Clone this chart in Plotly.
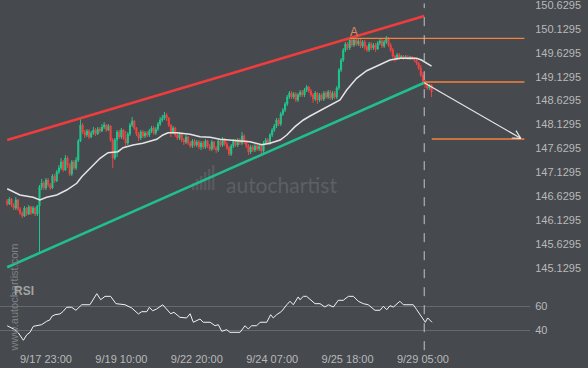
import math
import plotly.graph_objects as go

# ---------------- data ----------------
first_open = 146.529
close = [146.466,146.571,146.445,146.382,146.550,146.361,146.278,146.215,146.382,146.257,
         146.403,146.278,146.382,146.257,146.424,146.822,146.906,146.801,146.968,146.864,
         146.801,147.052,146.947,147.136,147.219,147.345,147.178,147.428,147.282,147.094,
         147.345,147.219,147.387,147.784,148.119,147.972,147.910,147.993,147.868,147.951,
         148.014,147.931,148.035,147.993,148.077,148.119,148.014,148.098,147.805,147.428,
         147.805,147.972,147.868,148.014,147.847,147.742,147.931,148.119,148.203,148.056,
         147.931,147.847,147.972,147.889,147.951,147.910,147.993,148.056,147.951,148.035,
         148.140,148.223,148.265,148.328,148.265,148.119,147.972,148.056,147.910,147.847,
         147.931,147.805,147.763,147.868,147.742,147.679,147.784,147.700,147.763,147.659,
         147.742,147.659,147.784,147.679,147.617,147.763,147.638,147.596,147.784,147.700,
         147.826,147.721,147.638,147.512,147.679,147.784,147.700,147.805,147.742,147.889,
         147.763,147.679,147.554,147.659,147.596,147.679,147.617,147.679,147.575,147.742,
         147.805,147.742,147.910,148.014,148.098,148.223,148.140,148.349,148.433,148.558,
         148.705,148.788,148.705,148.767,148.642,148.747,148.809,148.747,148.851,148.914,
         148.830,148.747,148.663,148.788,148.642,148.747,148.663,148.788,148.705,148.809,
         148.684,148.788,148.705,148.893,149.270,149.479,149.688,149.814,149.730,149.897,
         149.793,149.897,149.814,149.876,149.772,149.855,149.751,149.688,149.814,149.730,
         149.793,149.709,149.834,149.876,149.772,149.855,149.939,149.793,149.688,149.562,
         149.500,149.583,149.521,149.562,149.521,149.542,149.500,149.542,149.500,149.479,
         149.416,149.311,149.165,149.019,148.977,148.893,148.956,148.809]
high = [146.571,146.613,146.592,146.487,146.613,146.571,146.403,146.320,146.424,146.403,
        146.445,146.424,146.424,146.403,146.445,146.864,146.989,146.947,147.010,147.010,
        146.906,147.094,147.094,147.178,147.282,147.428,147.387,147.491,147.470,147.324,
        147.387,147.387,147.449,147.826,148.265,148.161,148.014,148.035,148.035,147.993,
        148.077,148.056,148.077,148.077,148.140,148.182,148.140,148.140,148.119,147.847,
        147.847,148.014,148.014,148.056,148.035,147.993,147.972,148.161,148.286,148.223,
        148.077,147.972,148.014,148.014,147.993,147.993,148.035,148.098,148.098,148.077,
        148.182,148.286,148.328,148.391,148.370,148.286,148.140,148.098,148.077,147.951,
        147.972,147.951,147.847,147.910,147.889,147.784,147.826,147.826,147.805,147.805,
        147.784,147.784,147.826,147.805,147.721,147.805,147.784,147.679,147.826,147.826,
        147.868,147.847,147.763,147.679,147.721,147.826,147.826,147.847,147.847,147.972,
        147.931,147.805,147.721,147.700,147.700,147.721,147.721,147.721,147.721,147.784,
        147.847,147.847,147.951,148.056,148.140,148.265,148.265,148.391,148.475,148.600,
        148.747,148.830,148.830,148.809,148.809,148.788,148.851,148.851,148.893,148.956,
        148.935,148.872,148.788,148.830,148.809,148.788,148.788,148.830,148.830,148.851,
        148.851,148.830,148.830,148.935,149.311,149.521,149.730,149.855,149.855,149.960,
        149.939,149.939,149.939,149.918,149.918,149.897,149.897,149.793,149.855,149.855,
        149.834,149.834,149.876,149.918,149.918,149.897,149.981,149.960,149.834,149.730,
        149.583,149.625,149.625,149.583,149.583,149.583,149.583,149.562,149.562,149.542,
        149.521,149.437,149.374,149.228,149.060,148.998,148.977,148.977]
low = [146.424,146.445,146.403,146.341,146.341,146.320,146.236,146.173,146.194,146.215,
       146.236,146.236,146.257,146.215,146.215,145.462,146.759,146.759,146.759,146.822,
       146.759,146.780,146.906,146.926,147.094,147.178,147.136,147.157,147.219,147.052,
       147.052,147.178,147.178,147.345,147.763,147.931,147.847,147.868,147.826,147.847,
       147.910,147.889,147.910,147.951,147.972,148.035,147.972,147.993,147.763,147.219,
       147.387,147.449,147.826,147.826,147.805,147.659,147.700,147.889,148.077,148.014,
       147.889,147.784,147.805,147.847,147.847,147.868,147.868,147.951,147.910,147.910,
       147.993,148.098,148.182,148.223,148.203,148.077,147.868,147.931,147.868,147.805,
       147.805,147.763,147.700,147.721,147.700,147.638,147.638,147.659,147.659,147.617,
       147.596,147.617,147.617,147.638,147.575,147.575,147.596,147.533,147.554,147.659,
       147.659,147.679,147.596,147.470,147.470,147.638,147.659,147.659,147.700,147.700,
       147.721,147.638,147.491,147.512,147.554,147.554,147.575,147.575,147.512,147.533,
       147.700,147.700,147.700,147.868,147.972,148.056,148.098,148.098,148.307,148.391,
       148.516,148.663,148.663,148.663,148.600,148.600,148.705,148.705,148.705,148.809,
       148.788,148.705,148.579,148.621,148.558,148.600,148.621,148.621,148.663,148.663,
       148.642,148.642,148.663,148.663,148.851,149.228,149.437,149.646,149.688,149.688,
       149.751,149.751,149.772,149.772,149.730,149.730,149.688,149.646,149.646,149.688,
       149.688,149.646,149.688,149.793,149.730,149.730,149.814,149.751,149.646,149.521,
       149.437,149.479,149.479,149.500,149.479,149.500,149.479,149.479,149.479,149.437,
       149.374,149.270,149.123,148.977,148.893,148.851,148.851,148.705]

# moving average (bar index, price)
ma_x = [0,5.9,12,15.2,18.3,23,27.6,32.3,34.6,38.4,43.1,46.8,51.4,53.8,58.4,63,69.4,72.3,74.7,78.7,
        84.9,89.5,94.2,98.8,105,112.7,118.2,122,126.7,129.8,133.6,137.5,140.6,148.3,154.5,157.6,
        162.2,166.9,173.1,177.7,182.3,190,192.3,196.2,197]
ma_y = [146.786,146.655,146.607,146.550,146.607,146.655,146.759,146.899,147.038,147.220,147.423,
        147.540,147.561,147.644,147.701,147.736,147.820,147.910,147.958,147.958,147.925,147.874,
        147.862,147.820,147.791,147.770,147.707,147.736,147.805,147.910,148.084,148.224,148.307,
        148.502,148.642,148.851,149.096,149.255,149.374,149.479,149.514,149.514,149.479,149.389,149.353]

# RSI (bar index, value)
rsi_x = [0,2.1,3.6,5.2,7.5,9.1,10.6,12.1,14.4,16,18.3,19.9,20.7,22.2,24.5,26,27.6,29.9,31.9,34.6,
         38.4,41.6,43.4,45.4,48,50.5,54.7,57.8,60.9,62.4,64.8,66,67.5,69.4,72.2,74,75.9,77.4,80.2,
         83.3,84.9,86.4,89.5,91,94.2,96.5,98,99.6,101.9,103.4,108.1,110.4,111.9,113.5,115.8,117.4,
         120.5,122.3,123.5,125.1,127.4,129.8,131.3,132.8,135.1,135.9,137.5,139,140.6,142.9,145.2,
         147.5,149.1,151.4,153.7,156,158.4,160.7,163,165.3,167.6,170.7,173.1,174.6,176.2,177.7,
         179.3,182.3,183.9,188.5,190.1,192.4,194.1,195.2,197.2]
rsi_y = [43.8,41.9,40.5,37.8,31.7,36.3,38.3,43.3,43.8,44.7,47.5,48.8,51.6,53,53.6,55.8,59.2,59.2,
         56.7,61.3,61.3,70.5,65.5,68.3,68.3,62.2,61.3,58.6,53.6,55.5,55.5,59.2,56.3,57.8,61.3,57.2,
         53.8,55,50.8,50.3,53.8,46.7,49.4,46.7,46.7,43.8,44.7,39.2,40.5,38.3,38.3,43.8,41.1,43.8,
         43.8,46.7,46.7,53,50.3,53,55.8,61.3,64.2,61.3,67.8,65.5,68.3,68.3,65.5,62.2,62.2,59.4,
         61.3,59.4,65,65,68.3,68.3,64.2,62.2,61.3,56.7,56.7,60,57.2,60.5,59.4,64.2,61.3,61.3,57.2,
         50.8,46.7,50.3,46.7]

# channel / pattern lines (bar index, price)
res_line = [(0, 147.805), (193.6, 150.399)]
sup_line = [(0, 145.142), (193.6, 149.004)]
lvl_top = (159.1, 240.1, 149.933)
lvl_mid = (193.6, 240.1, 149.019)
lvl_bot = (197.1, 240.1, 147.826)
forecast = [(193.6, 149.004), (238.4, 147.841)]
point_a = (161.1, 150.07)
end_bar = 193.6

price_ticks = [145.1295, 145.6295, 146.1295, 146.6295, 147.1295, 147.6295,
               148.1295, 148.6295, 149.1295, 149.6295, 150.1295, 150.6295]
rsi_ticks = [40, 60]
x_tickvals = [18, 53, 88, 123, 158, 193]
x_ticktext = ["9/17 23:00", "9/19 10:00", "9/22 20:00", "9/24 07:00", "9/25 18:00", "9/29 05:00"]

# ---------------- layout constants ----------------
W, H = 588, 368
ML, MR, MT, MB = 0, 58, 0, 23
plot_w = W - ML - MR
plot_h = H - MT - MB
price_px = 282
xr = [-3.343, 242.7]
pr = [144.8346, 150.7341]
rr = [27.75, 78.58]

BG = "#46494e"
GREEN = "#1ec88c"
RED = "#f04343"
ORANGE = "#f5823c"
TICK = "#b9b9b9"

bars = list(range(len(close)))
open_ = [first_open] + close[:-1]

fig = go.Figure()
fig.add_trace(go.Candlestick(
    x=bars, open=open_, high=high, low=low, close=close,
    increasing=dict(line=dict(color=GREEN, width=1), fillcolor=GREEN),
    decreasing=dict(line=dict(color=RED, width=1), fillcolor=RED),
    whiskerwidth=0, xaxis="x", yaxis="y", hoverinfo="skip", showlegend=False))

fig.add_trace(go.Scatter(x=ma_x, y=ma_y, mode="lines",
                         line=dict(color="#e4e4e4", width=1.5), yaxis="y",
                         hoverinfo="skip", showlegend=False))

fig.add_trace(go.Scatter(x=rsi_x, y=rsi_y, mode="lines",
                         line=dict(color="#f2f2f2", width=1), yaxis="y2",
                         hoverinfo="skip", showlegend=False))

# channel lines
for ln, col in [(res_line, "#ee3d3d"), (sup_line, "#20bf8c")]:
    fig.add_trace(go.Scatter(x=[ln[0][0], ln[1][0]], y=[ln[0][1], ln[1][1]], mode="lines",
                             line=dict(color=col, width=2.6), yaxis="y",
                             hoverinfo="skip", showlegend=False))
# horizontal levels
for x0, x1, yv in [lvl_top, lvl_mid, lvl_bot]:
    fig.add_trace(go.Scatter(x=[x0, x1], y=[yv, yv], mode="lines",
                             line=dict(color=ORANGE, width=1.3), yaxis="y",
                             hoverinfo="skip", showlegend=False))

# forecast arrow
(fx0, fy0), (fx1, fy1) = forecast
px_bar = plot_w / (xr[1] - xr[0])
px_pr = price_px / (pr[1] - pr[0])
vx = (fx1 - fx0) * px_bar
vy = -(fy1 - fy0) * px_pr
L = math.hypot(vx, vy)
ux, uy = -vx / L, -vy / L
head = []
for ang in (math.radians(28), math.radians(-28)):
    rx = ux * math.cos(ang) - uy * math.sin(ang)
    ry = ux * math.sin(ang) + uy * math.cos(ang)
    head.append((fx1 + rx * 9 / px_bar, fy1 - ry * 9 / px_pr))
fig.add_trace(go.Scatter(x=[fx0, fx1], y=[fy0, fy1], mode="lines",
                         line=dict(color="#e8e8e8", width=1.2), yaxis="y",
                         hoverinfo="skip", showlegend=False))
fig.add_trace(go.Scatter(x=[head[0][0], fx1, head[1][0]], y=[head[0][1], fy1, head[1][1]],
                         mode="lines", line=dict(color="#e8e8e8", width=1.2), yaxis="y",
                         hoverinfo="skip", showlegend=False))

shapes = [dict(type="line", xref="x", yref="paper", x0=end_bar, x1=end_bar,
               y0=-0.015, y1=0.99, line=dict(color="#c4c4c4", width=1, dash="dash"))]
# watermark logo bars
logo = [(192, 183), (196, 179), (200, 176), (204, 172), (208, 169), (212, 165)]
for lx, ly in logo:
    shapes.append(dict(type="rect", xref="paper", yref="paper", layer="below",
                       x0=lx / plot_w, x1=(lx + 2.5) / plot_w,
                       y0=(plot_h - 190) / plot_h, y1=(plot_h - ly) / plot_h,
                       fillcolor="#56595e", line=dict(width=0)))

C = dict(xanchor="center", yanchor="middle", showarrow=False)
annotations = [
    dict(x=point_a[0], y=point_a[1], xref="x", yref="y", text="A",
         font=dict(family="Liberation Sans, Arial", size=12, color="#e08a62"), **C),
    dict(x=281 / plot_w, y=(plot_h - 185) / plot_h, xref="paper", yref="paper",
         text="autochartist",
         font=dict(family="Lato, Open Sans", size=21, color="#5d6065"), **C),
    dict(x=13.5 / plot_w, y=(plot_h - 298) / plot_h, xref="paper", yref="paper",
         text="www.autochartist.com", textangle=-90,
         font=dict(family="Liberation Sans, Arial", size=11, color="#7f8287"), **C),
    dict(x=23.5 / plot_w, y=(plot_h - 291) / plot_h, xref="paper", yref="paper",
         text="<b>RSI</b>",
         font=dict(family="Liberation Sans, Arial", size=12, color="#a3a3a3"), **C),
]

fig.update_layout(
    width=W, height=H, margin=dict(l=ML, r=MR, t=MT, b=MB, pad=0),
    paper_bgcolor=BG, plot_bgcolor=BG, showlegend=False,
    font=dict(family="Liberation Sans, Arial", size=11, color=TICK),
    xaxis=dict(range=xr, anchor="y2", showgrid=False, zeroline=False, showline=False,
               tickvals=x_tickvals, ticktext=x_ticktext, ticks="outside", ticklen=4,
               tickcolor="rgba(0,0,0,0)",
               tickfont=dict(size=11, color=TICK), rangeslider=dict(visible=False)),
    yaxis=dict(domain=[1 - price_px / plot_h, 1], range=pr, side="right", anchor="x",
               showgrid=False, zeroline=False, tickvals=price_ticks,
               ticktext=["%.4f" % v for v in price_ticks], ticks="outside", ticklen=2,
               tickcolor="rgba(0,0,0,0)", ticklabeloverflow="allow",
               tickfont=dict(size=11, color=TICK)),
    yaxis2=dict(domain=[0, 61 / plot_h], range=rr, side="right", anchor="x",
                showgrid=True, gridcolor="#66696e", gridwidth=1, zeroline=False,
                tickvals=rsi_ticks, ticks="outside", ticklen=2, tickcolor="rgba(0,0,0,0)",
                tickfont=dict(size=11, color=TICK)),
    shapes=shapes, annotations=annotations,
)

fig.write_html("out.html")
